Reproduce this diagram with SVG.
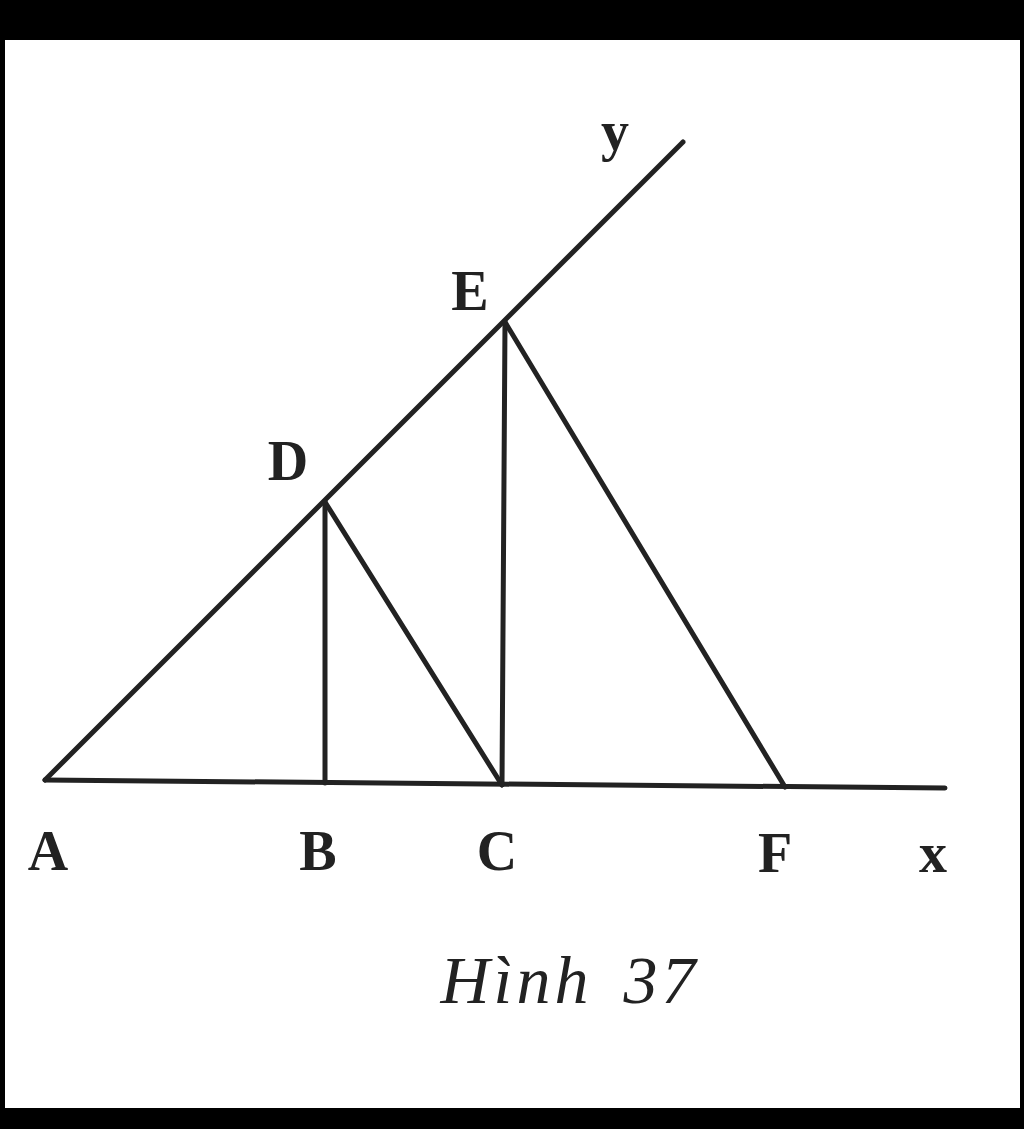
<svg xmlns="http://www.w3.org/2000/svg" width="1024" height="1129" viewBox="0 0 1024 1129">
<style>
.l{stroke:#222;stroke-width:5;fill:none;stroke-linecap:round}
.t{font-family:"Liberation Serif",serif;font-size:56px;fill:#222;font-weight:bold}
</style>
<rect width="1024" height="1129" fill="#fff"/>
<rect width="1024" height="40" fill="#000"/>
<rect y="1108" width="1024" height="21" fill="#000"/>
<rect width="5" height="1129" fill="#000"/>
<rect x="1020" width="4" height="1129" fill="#000"/>
<g id="connectors">
<line class="l" x1="45" y1="780" x2="683" y2="142"/>
<line class="l" x1="45" y1="780" x2="945" y2="788"/>
<line class="l" x1="325" y1="502" x2="325" y2="783"/>
<line class="l" x1="325" y1="502" x2="502" y2="785"/>
<line class="l" x1="505" y1="322" x2="502" y2="785"/>
<line class="l" x1="505" y1="322" x2="785" y2="787"/>
</g>
<g id="A"><text class="t" x="48" y="870" text-anchor="middle">A</text></g>
<g id="B"><text class="t" x="318" y="870" text-anchor="middle">B</text></g>
<g id="C"><text class="t" x="497" y="870" text-anchor="middle">C</text></g>
<g id="F"><text class="t" x="775" y="872" text-anchor="middle">F</text></g>
<g id="x"><text class="t" x="933" y="872" text-anchor="middle">x</text></g>
<g id="D"><text class="t" x="288" y="480" text-anchor="middle">D</text></g>
<g id="E"><text class="t" x="470" y="310" text-anchor="middle">E</text></g>
<g id="y"><text class="t" x="615" y="150" text-anchor="middle">y</text></g>
<g id="caption"><text x="570" y="1003" text-anchor="middle" font-family="Liberation Serif,serif" font-style="italic" font-size="68" letter-spacing="4" word-spacing="10" fill="#222">Hình 37</text></g>
</svg>
